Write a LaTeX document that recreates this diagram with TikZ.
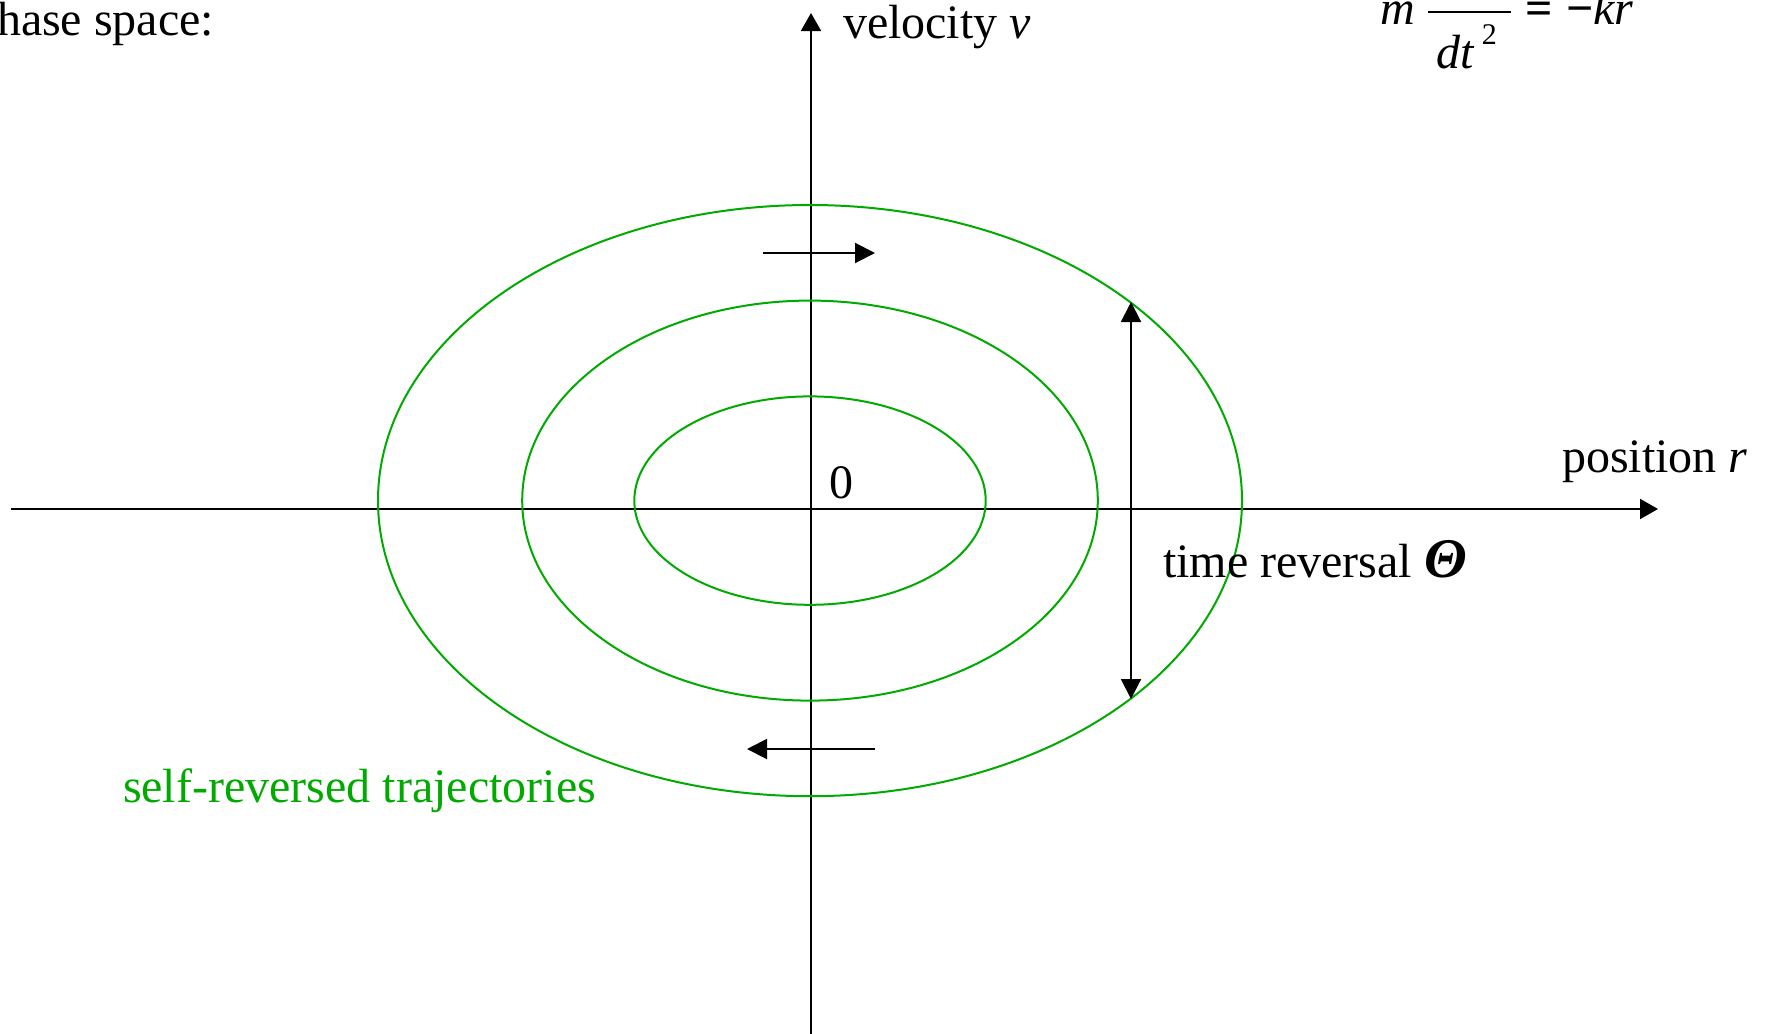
\documentclass[tikz,border=0pt]{standalone}
\usepackage{fontspec}
\setmainfont{Liberation Serif}
\usetikzlibrary{arrows.meta}
\definecolor{traj}{RGB}{0,170,0}
\tikzset{
  lbl/.style={inner sep=0pt, outer sep=0pt, anchor=base west, font=\fontsize{24}{28}\selectfont},
  axis/.style={draw=black, line width=1pt, -{Triangle[length=9pt,width=10pt]}},
  flow/.style={draw=black, line width=1pt, -{Triangle[length=10pt,width=10pt]}},
  rev/.style={draw=black, line width=1pt, {Triangle[length=10pt,width=10pt]}-{Triangle[length=10pt,width=10pt]}},
  orbit/.style={draw=traj, line width=1pt}
}
\begin{document}
\begin{tikzpicture}[x=0.5pt,y=-0.5pt]
\useasboundingbox (0,0) rectangle (1766,1033);
% axes
\coordinate (xs) at (11,509);
\coordinate (xe) at (1658,509);
\coordinate (ys) at (811,1040);
\coordinate (ye) at (811,13);
\draw[axis] (xs) -- (xe);
\draw[axis] (ys) -- (ye);
% orbits
\coordinate (c) at (810,500.6);
\draw[orbit] (c) ellipse [x radius=216pt, y radius=147.8pt];
\draw[orbit] (c) ellipse [x radius=143.9pt, y radius=100pt];
\draw[orbit] (c) ellipse [x radius=87.85pt, y radius=52.1pt];
% flow arrows
\coordinate (f1s) at (763,253);
\coordinate (f1e) at (875,253);
\coordinate (f2s) at (875,749);
\coordinate (f2e) at (747,749);
\draw[flow] (f1s) -- (f1e);
\draw[flow] (f2s) -- (f2e);
% time reversal
\coordinate (tr1) at (1131,302);
\coordinate (tr2) at (1131,699);
\draw[rev] (tr1) -- (tr2);
% labels
\node[lbl] (phase) at (-3,35) {hase space:};
\node[lbl] (vel) at (843,38) {velocity \textit{v}};
\node[lbl] (pos) at (1562,472) {position \textit{r}};
\node[lbl] (zero) at (829,498) {0};
\node[lbl] (trl) at (1163,577) {time reversal \textbf{\textit{\fontsize{28}{28}\selectfont Θ}}};
\node[lbl, text=traj] (self) at (123,802) {self-reversed trajectories};
% equation
\node[lbl] (eqm) at (1380,25) {\textit{m}};
\coordinate (bar1) at (1428,12);
\coordinate (bar2) at (1511,12);
\draw[line width=1pt] (bar1) -- (bar2);
\node[lbl] (eqd) at (1436,68) {\textit{dt}\raisebox{0.5em}{\fontsize{15}{15}\selectfont\ 2}};
\node[lbl] (eqeq) at (1525,25) {\textbf{=}};
\node[lbl] (eqk) at (1566,25) {\textbf{−}\textit{kr}};
\end{tikzpicture}
\end{document}
